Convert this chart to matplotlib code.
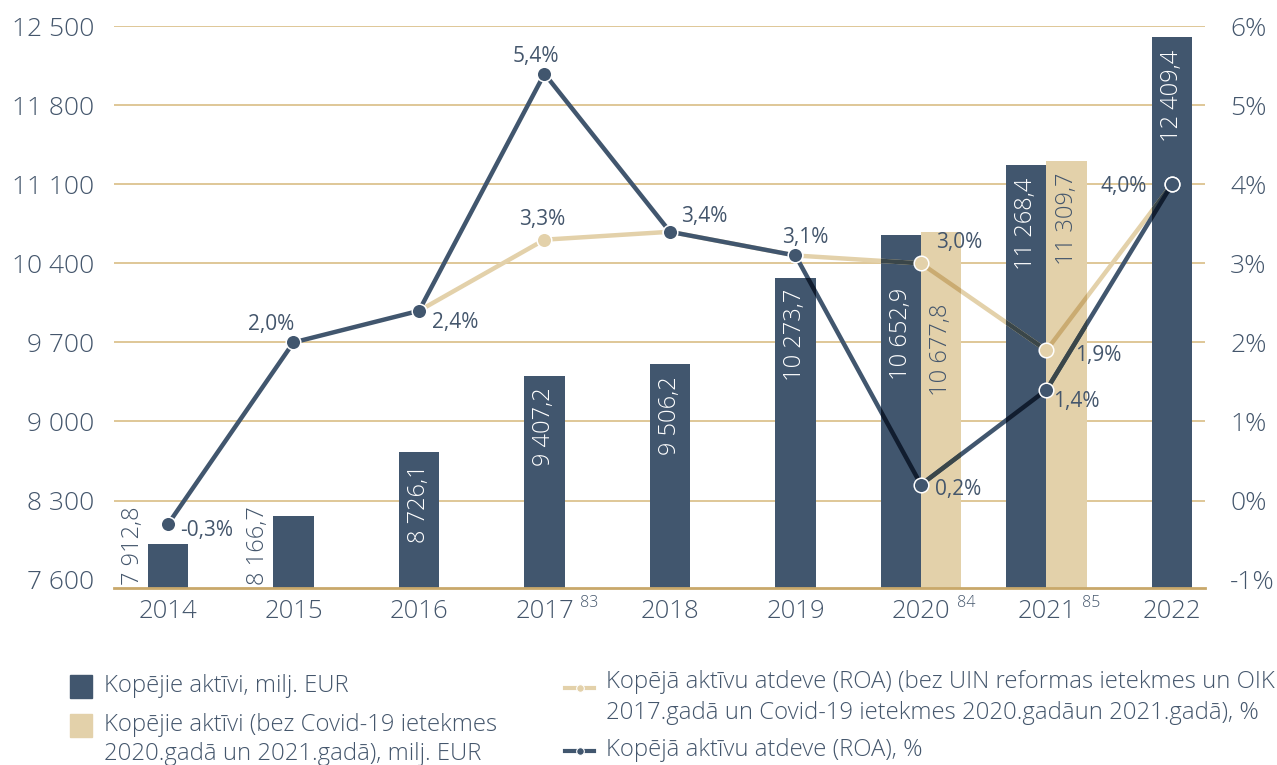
import numpy as np
import matplotlib.pyplot as plt
from matplotlib.lines import Line2D
from matplotlib.patches import Rectangle
from matplotlib.colors import to_rgb

# Data
years = ['2014', '2015', '2016', '2017', '2018', '2019', '2020', '2021', '2022']
footnotes = ['', '', '', '83', '', '', '84', '85', '']
assets = [7912.8, 8166.7, 8726.1, 9407.2, 9506.2, 10273.7, 10652.9, 11268.4, 12409.4]
assets_adj = [np.nan, np.nan, np.nan, np.nan, np.nan, np.nan, 10677.8, 11309.7, np.nan]
roa = [-0.3, 2.0, 2.4, 5.4, 3.4, 3.1, 0.2, 1.4, 4.0]
roa_adj = [np.nan, np.nan, 2.4, 3.3, 3.4, 3.1, 3.0, 1.9, 4.0]
roa_adj_labelled = [3, 6, 7]

left_ticks = [7600, 8300, 9000, 9700, 10400, 11100, 11800, 12500]
right_ticks = [-1, 0, 1, 2, 3, 4, 5, 6]

legend_bars = ['Kopējie aktīvi, milj. EUR',
               'Kopējie aktīvi (bez Covid-19 ietekmes\n2020.gadā un 2021.gadā), milj. EUR']
legend_lines = ['Kopējā aktīvu atdeve (ROA) (bez UIN reformas ietekmes un OIK\n'
                '2017.gadā un Covid-19 ietekmes 2020.gadāun 2021.gadā), %',
                'Kopējā aktīvu atdeve (ROA), %']

# Style
DARK = '#41566e'
TAN = '#e3d1aa'
TEXT = '#44566c'
GRID = '#dcc38f'
BASE = '#c9a86a'
FONT = 'Open Sans'
W, H = 1277, 765
PX = 72 / 100  # points per pixel

plt.rcParams['font.family'] = [FONT, 'DejaVu Sans']
plt.rcParams['font.weight'] = 'light'


def multiply(c1, c2):
    return tuple(a * b for a, b in zip(to_rgb(c1), to_rgb(c2)))


def fmt_num(v):
    return f'{v:,.1f}'.replace(',', ' ').replace('.', ',')


def fmt_pct(v):
    return f'{v:.1f}%'.replace('.', ',')


fig = plt.figure(figsize=(W / 100, H / 100), dpi=100)
ax = fig.add_axes([114 / W, 1 - 588 / H, 1091 / W, 562 / H])
ax2 = ax.twinx()

x = np.arange(len(years))
assets = np.array(assets)
assets_adj = np.array(assets_adj)
has_adj = ~np.isnan(assets_adj)
bw = 0.32
dark_x = x - np.where(has_adj, bw / 2, 0)

dark_bars = ax.bar(dark_x, assets, width=bw, color=DARK, zorder=2)
tan_bars = ax.bar(x[has_adj] + bw / 2, assets_adj[has_adj], width=bw, color=TAN, zorder=2)

ax.set_xlim(-0.430, 8.263)
ax.set_ylim(7525, 12503)
ax2.set_ylim(-1.1076, 6.004)

ax.set_yticks(left_ticks)
ax.set_yticklabels([f'{v:,}'.replace(',', ' ') for v in left_ticks])
ax2.set_yticks(right_ticks)
ax2.set_yticklabels([f'{v}%' for v in right_ticks])
ax.set_xticks(x)
ax.set_xticklabels(years)

ax.grid(axis='y', color=GRID, lw=1.3)
ax.set_axisbelow(True)
ax.get_ygridlines()[0].set_visible(False)

for a in (ax, ax2):
    for s in a.spines.values():
        s.set_visible(False)
ax.spines['bottom'].set_visible(True)
ax.spines['bottom'].set_color(BASE)
ax.spines['bottom'].set_linewidth(2)

ax.tick_params(axis='y', length=0, pad=14, labelsize=19, labelcolor=TEXT)
ax2.tick_params(axis='y', length=0, pad=18, labelsize=19, labelcolor=TEXT)
ax.tick_params(axis='x', length=0, pad=8, labelsize=18.5, labelcolor=TEXT)

# footnote marks next to year labels
for i, note in enumerate(footnotes):
    if note:
        ax.annotate(note, (i, 0), xycoords=('data', 'axes fraction'),
                    xytext=(36 * PX, -15 * PX), textcoords='offset points',
                    ha='left', va='center', fontsize=11.5, color=TEXT)

# values on bars; the 2020 pair sits lower so the ROA labels stay clear
dark_gap = [0, 0, 12, 12, 12, 11, 53, 12, 13]
tan_gap = [71, 12]
for bar, v, gap in zip(dark_bars, assets, dark_gap):
    cx = bar.get_x() + bar.get_width() / 2
    if v < 8500:
        ax.annotate(fmt_num(v), (cx, 0), xycoords=('data', 'axes fraction'),
                    xytext=(-35 * PX, 3 * PX), textcoords='offset points',
                    rotation=90, ha='center', va='bottom', fontsize=17, color=TEXT)
    else:
        ax.annotate(fmt_num(v), (cx, v), xytext=(0, -gap * PX), textcoords='offset points',
                    rotation=90, ha='center', va='top', fontsize=17, color='white', zorder=3)
for bar, v, gap in zip(tan_bars, assets_adj[has_adj], tan_gap):
    cx = bar.get_x() + bar.get_width() / 2
    ax.annotate(fmt_num(v), (cx, v), xytext=(0, -gap * PX), textcoords='offset points',
                rotation=90, ha='center', va='top', fontsize=17, color=TEXT, zorder=3)

# ROA lines; where they cross bars, tint them as if multiplied with the bar colour
all_bars = [(b, DARK) for b in dark_bars] + [(b, TAN) for b in tan_bars]
for series, color, z in ((roa_adj, TAN, 3), (roa, DARK, 6)):
    ax2.plot(x, series, color=color, lw=3.2, solid_capstyle='round', zorder=z)
    for bar, bc in all_bars:
        ln, = ax2.plot(x, series, color=multiply(color, bc), lw=3.2, zorder=z + 1)
        ln.set_clip_path(bar)
    ax2.plot(x, series, ls='none', marker='o', ms=10.5, mfc=color, mec='white',
             mew=1.1, zorder=z + 2)

# point labels: (dx, dy) in pixels, dy positive downwards
roa_offsets = [(12, 6, 'left'), (-22, -18, 'center'), (13, 12, 'left'),
               (-9, -17, 'center'), (11, -15, 'left'), (10, -18, 'center'),
               (14, 5, 'left'), (7, 12, 'left'), (-25, 2, 'right')]
adj_offsets = {3: (-2, -20, 'center'), 6: (15, -21, 'left'), 7: (29, 5, 'left')}

for i, v in enumerate(roa):
    dx, dy, ha = roa_offsets[i]
    ax2.annotate(fmt_pct(v), (i, v), xytext=(dx * PX, -dy * PX), textcoords='offset points',
                 ha=ha, va='center', fontsize=15, fontweight='normal', color=TEXT, zorder=10)
for i in roa_adj_labelled:
    dx, dy, ha = adj_offsets[i]
    ax2.annotate(fmt_pct(roa_adj[i]), (i, roa_adj[i]), xytext=(dx * PX, -dy * PX),
                 textcoords='offset points', ha=ha, va='center', fontsize=15,
                 fontweight='normal', color=TEXT, zorder=10)

# legend
def fx(px):
    return px / W


def fy(py):
    return 1 - py / H


for (label, color), top in zip(zip(legend_bars, (DARK, TAN)), (675, 714)):
    fig.add_artist(Rectangle((fx(70), fy(top + 23)), fx(22), 23 / H, color=color,
                             transform=fig.transFigure))
    for k, line in enumerate(label.split('\n')):
        fig.text(fx(104), fy(top + 11 + 29 * k), line, ha='left', va='center',
                 fontsize=17.2, color=TEXT)

for (label, color), yc in zip(zip(legend_lines, (TAN, DARK)), (688, 751)):
    fig.add_artist(Line2D([fx(565), fx(594)], [fy(yc), fy(yc)], color=color, lw=3,
                          transform=fig.transFigure))
    fig.add_artist(Line2D([fx(579.5)], [fy(yc)], marker='o', ms=5.5, mfc=color,
                          mec='white', mew=0.8, transform=fig.transFigure))
    ty = yc - 6 if '\n' in label else yc - 1
    for k, line in enumerate(label.split('\n')):
        fig.text(fx(606), fy(ty + 31 * k), line, ha='left', va='center',
                 fontsize=17.2, color=TEXT)

fig.savefig('out.png', dpi=100)
